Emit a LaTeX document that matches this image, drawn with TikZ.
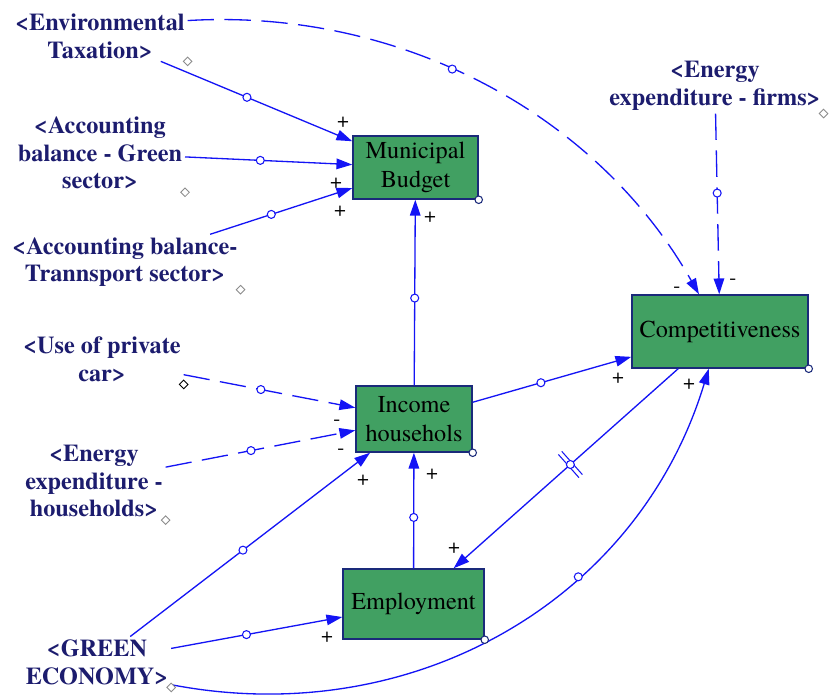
\documentclass[tikz,border=0pt]{standalone}
\usepackage{fontspec}
\setmainfont{texgyretermes}[Extension=.otf,UprightFont=*-regular,BoldFont=*-bold,ItalicFont=*-italic,BoldItalicFont=*-bolditalic]
\usetikzlibrary{arrows.meta,shapes.geometric,decorations.markings}
\definecolor{Link}{HTML}{1414F5}
\definecolor{Navy}{HTML}{1C1C6E}
\definecolor{StockGreen}{HTML}{41A062}
\definecolor{StockEdge}{HTML}{1A2A7A}
\definecolor{Grip}{HTML}{8C8C8C}

\begin{document}
\begin{tikzpicture}[x=0.02cm,y=-0.02cm,
  stock/.style={draw=StockEdge,line width=0.85pt,fill=StockGreen,align=center,
    font=\fontsize{13.8}{16.4}\selectfont,inner sep=0pt},
  shadow/.style={align=center,text=Navy,font=\fontsize{13.8}{15.8}\selectfont\bfseries,inner sep=1.5pt},
  link/.style={-{Triangle[length=9pt,width=6pt]},color=Link,line width=0.75pt},
  dashlink/.style={link,dash pattern=on 15pt off 6pt},
  handle/.style={circle,solid,draw=Link,fill=white,line width=0.6pt,inner sep=0pt,minimum size=1.6mm},
  boxgrip/.style={circle,draw=StockEdge,fill=white,line width=0.6pt,inner sep=0pt,minimum size=1.5mm},
  labgrip/.style={diamond,draw=Grip,fill=white,line width=0.5pt,inner sep=0pt,minimum size=1.8mm},
  polarity/.style={font=\fontsize{12}{12}\selectfont,inner sep=0pt},
  delaymark/.style={postaction={decorate,decoration={markings,mark=at position #1 with
    {\draw[solid,-,line width=0.6pt] (-1.3pt,-3.1mm)--(-1.3pt,3.1mm) (1.3pt,-3.1mm)--(1.3pt,3.1mm);}}}}
]
\path[use as bounding box,fill=white] (0,0) rectangle (832,697);

% Stocks.
\node[stock,minimum width=2.5cm,minimum height=1.26cm] (budget) at (415.5,167.5) {Municipal\\Budget};
\node[stock,minimum width=3.52cm,minimum height=1.46cm] (comp) at (720,331.5) {Competitiveness};
\node[stock,minimum width=2.32cm,minimum height=1.32cm] (income) at (414,419) {Income\\househols};
\node[stock,minimum width=2.82cm,minimum height=1.4cm] (employ) at (413.5,604) {Employment};

% Shadow variables.
\node[shadow] (envtax) at (100,36) {<Environmental\\Taxation>};
\node[shadow] (greensec) at (100,153) {<Accounting\\balance - Green\\sector>};
\node[shadow] (transp) at (125,262) {<Accounting balance-\\Trannsport sector>};
\node[shadow] (firms) at (715,86) {<Energy\\expenditure - firms>};
\node[shadow] (car) at (102,359) {<Use of private\\car>};
\node[shadow] (hhold) at (94,481) {<Energy\\expenditure -\\households>};
\node[shadow] (greeneco) at (97,662) {<GREEN\\ECONOMY>};

% Links.
\draw[link] (envtax) -- node[handle,pos=0.45] (h1) {} (budget);
\draw[link] (greensec) -- node[handle,pos=0.45] (h2) {} (budget);
\draw[link] (transp) -- node[handle,pos=0.43] (h3) {} (budget);
\draw[dashlink] (envtax.10) .. controls (400,8) and (597,114) .. node[handle,pos=0.44] (h4) {} (comp);
\draw[dashlink] (firms) -- node[handle,pos=0.44] (h5) {} (comp);
\draw[link] (income) -- node[handle,pos=0.47] (h6) {} (budget);
\draw[dashlink] (car) -- node[handle,pos=0.45] (h7) {} (income);
\draw[dashlink] (hhold) -- node[handle,pos=0.45] (h8) {} (income);
\draw[link] (greeneco) -- node[handle,pos=0.47] (h9) {} (income);
\draw[link] (greeneco) -- node[handle,pos=0.44] (h10) {} (employ);
\draw[link] (employ) -- node[handle,pos=0.44] (h11) {} (income);
\draw[link] (income) -- node[handle,pos=0.43] (h12) {} (comp);
\draw[link,delaymark=0.48] (comp) -- node[handle,pos=0.48] (h13) {} (employ);
\draw[link] (greeneco.-17) .. controls (411,731) and (638,602) .. node[handle,pos=0.64] (h14) {} (comp);

% Polarities.
\foreach \x/\y/\s [count=\i] in {343/122/+,336/183/+,340/211/+,430/217/+,677/290/-,733/282/-,
    337/423/-,341/452/-,363/480/+,432/474/+,327/637/+,618/378/+,454/548/+,689/384/+}
  \node[polarity] (pol\i) at (\x,\y) {\s};

% Grips.
\foreach \n in {envtax,greensec,transp,firms,hhold,greeneco}
  \node[labgrip] (\n-g) at (\n.south east) {};
\node[labgrip,draw=black] (car-g) at (car.south east) {};
\foreach \n in {budget,comp,income,employ}
  \node[boxgrip] (\n-g) at (\n.south east) {};
\end{tikzpicture}
\end{document}
